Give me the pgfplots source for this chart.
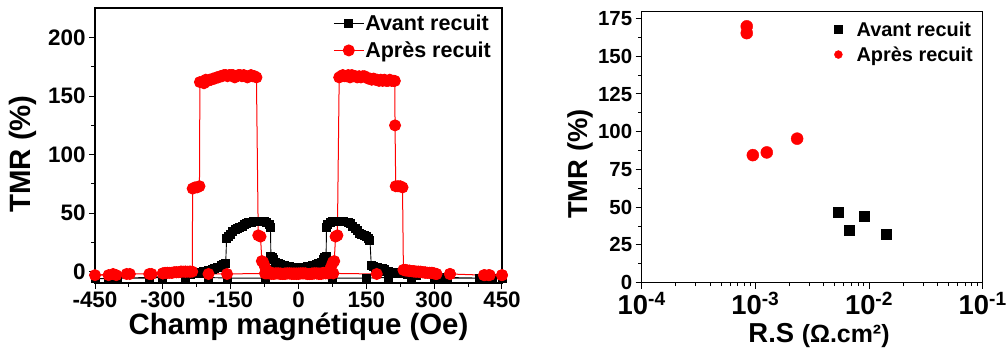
\documentclass[border=0pt]{standalone}
\usepackage{fontspec}
\setmainfont{Liberation Sans}
\usepackage{pgfplots}
\usepackage{pgfplotstable}
\pgfplotsset{compat=1.18}
\definecolor{myred}{RGB}{255,0,0}

\pgfplotstableread{
H T
450 -6
430 -6
415 -5.5
400 -5.5
330 -5.5
310 -5
300 -5
250 -5
200 -5
150 -5.5
76 -5.5
70 -2
65 0
60 1.5
50 2.5
40 3
30 3.5
20 3.5
10 4
0 4
-10 4
-20 4.5
-30 5
-40 6
-45 7
-50 8
-55 10
-58 12
-61 13
-62 38
-65 40
-70 42
-75 43
-80 43
-85 43
-90 43
-95 43
-100 43
-105 42
-110 42
-115 41
-120 40
-125 39
-130 38
-135 37
-140 36
-145 34
-150 32
-155 30
-159 28
-161 7
-165 6
-170 5
-175 4
-180 3.5
-185 3
-190 2
-200 1
-210 0
-220 -0.5
-230 -1
-240 -2
-250 -3
-300 -4
-330 -5
-400 -5.5
-420 -6
-450 -6
-420 -6
-400 -5.5
-330 -5.5
-300 -5
-250 -5
-200 -5
-157 -5.5
-74 -5.5
-70 -2
-65 0
-60 1.5
-50 2.5
-40 3
-30 3.5
-20 3.5
-10 4
0 4
10 4
20 4.5
30 5
40 6
45 7
50 8
55 10
58 12
61 13
62 38
65 40
70 42
75 43
80 43
90 43
100 43
110 42
115 41
120 39
125 37
130 35
135 33
140 32
145 31
150 30
155 28
158 27
161 5
165 4.5
170 4
175 3.5
180 3
185 2.5
190 1.5
195 0.5
200 0
210 -0.5
220 -1
240 -2
260 -3
300 -4
330 -5
400 -5.5
420 -6
450 -6
}\avant

\pgfplotstableread{
H T
450 -3
420 -3
410 -3
335 -2
305 -2
300 -1.5
295 -1
290 -1
285 -1
280 -0.5
275 -0.5
270 0
265 0
260 0
255 0.5
250 0.5
245 1
240 1
236 1.5
173 -2
77 -1.5
70 -1
65 -1.5
60 -1.5
55 -1.5
50 -2
45 -2
40 -1.5
35 -1.5
30 -2
25 -2
20 -2
15 -1.5
10 -1.5
5 -1.5
0 -1.5
-5 -1.5
-10 -2
-15 -2
-20 -1.5
-25 -1.5
-30 -1.5
-35 -2
-40 -2
-45 -1.5
-50 -1.5
-55 -1.5
-60 -1
-65 -0.5
-70 1
-74 4
-78 8
-81 9
-84 30
-89 31
-93 166
-97 167
-101 167
-105 168
-109 167
-113 166
-117 167
-121 168
-125 167
-129 168
-133 168
-137 167
-141 166
-145 168
-149 168
-153 168
-157 167
-161 168
-165 168
-169 167
-173 167
-177 166
-181 166
-185 165
-189 165
-193 164
-197 164
-201 163
-205 164
-209 161
-213 162
-218 162
-219 73
-224 72
-229 72
-234 71
-235 0
-240 0
-245 0
-250 0
-255 0
-260 0
-265 -0.5
-270 -0.5
-275 -0.5
-280 -1
-285 -1
-290 -1
-295 -1
-300 -1.5
-325 -2
-373 -2
-403 -3
-410 -2
-450 -3
-420 -3
-380 -2
-330 -2
-300 -1.5
-290 -1
-280 -1
-270 -0.5
-260 0
-250 0
-240 0
-199 -2
-158 -2
-74 -1.5
-70 -1.5
-65 -1.5
-60 -2
-55 -2
-50 -1.5
-45 -1.5
-40 -1.5
-35 -2
-30 -2
-25 -1.5
-20 -1.5
-15 -1.5
-10 -1.5
-5 -2
0 -2
5 -1.5
10 -1.5
15 -1.5
20 -2
25 -2
30 -1.5
35 -1.5
40 -1.5
45 -1.5
50 -1.5
55 -1
60 -1
65 -0.5
70 2
73 5
76 8
79 9
82 30
86 31
90 166
94 167
98 168
102 167
106 167
110 168
114 166
118 168
122 167
126 167
130 166
134 167
138 166
142 167
146 167
150 166
154 165
158 165
162 164
166 165
170 164
174 164
178 163
182 164
186 163
190 164
194 163
198 163
202 164
206 163
210 163
213 163
213.5 125
215 73
220 73
225 73
230 72
232 1.5
236 1
240 1
245 0.5
250 0.5
255 0
260 0
265 0
270 -0.5
275 -0.5
280 -1
285 -1
290 -1
295 -1
300 -1.5
305 -2
335 -2
412 -3
423 -3
450 -3
}\apres

\pgfplotstableread{
RS T
5.4e-3 46.4
6.7e-3 34.9
9.0e-3 44.2
1.43e-2 32.2
}\avantRS

\pgfplotstableread{
RS T
8.4e-4 169.8
8.4e-4 165.3
9.5e-4 84.5
1.26e-3 86.3
2.33e-3 95.4
}\apresRS

\begin{document}
\begin{tikzpicture}
\useasboundingbox (0,0) rectangle (1007bp,352bp);
\begin{axis}[
  at={(95bp,69bp)}, anchor=south west, scale only axis,
  width=407bp, height=275bp,
  xmin=-450, xmax=450, ymin=-9.7, ymax=225.3,
  xtick={-450,-300,-150,0,150,300,450},
  xticklabels={-450,-300,-150,0,150,300,450},
  minor xtick={-375,-225,-75,75,225,375},
  ytick={0,50,100,150,200},
  yticklabels={0,50,100,150,200},
  minor ytick={25,75,125,175},
  xtick pos=bottom, ytick pos=left,
  tick align=outside,
  major tick length=6bp, minor tick length=3.5bp,
  tick style={line width=1bp, black},
  axis line style={line width=1.3bp},
  ticklabel style={font=\fontsize{22.5}{22.5}\selectfont\bfseries},
  xticklabel style={inner sep=0pt, text depth=0pt, yshift=-3bp},
  xlabel={Champ magnétique (Oe)},
  ylabel={TMR (\%)},
  label style={font=\fontsize{29.5}{29.5}\selectfont\bfseries},
  x label style={at={(axis description cs:0.5,-0.189)}, anchor=base, inner sep=0pt, text height=0.75em},
  y label style={at={(axis description cs:-0.177,0.469)}, anchor=center},
  legend style={at={(axis description cs:0.585,0.980)}, anchor=north west,
    draw=none, fill=none, inner sep=0pt, row sep=8bp,
    font=\fontsize{21.6}{21.6}\selectfont\bfseries,
    nodes={inner sep=1bp}},
  legend cell align=left,
  legend image code/.code={\draw[mark repeat=2,mark phase=2] plot coordinates {(0bp,0bp)(15bp,0bp)(30bp,0bp)};},
]
\addplot[black, line width=0.9bp, mark=square*, mark size=4bp] table[x=H,y=T] {\avant};
\addlegendentry{Avant recuit}
\addplot[myred, line width=1bp, mark=*, mark size=5.5bp, mark options={fill=myred,draw=myred}] table[x=H,y=T] {\apres};
\addlegendentry{Après recuit}
\end{axis}

\begin{axis}[
  at={(641.7bp,69.3bp)}, anchor=south west, scale only axis,
  width=341bp, height=271bp,
  xmode=log, xmin=1e-4, xmax=1e-1, ymin=0, ymax=179.5,
  xtick={1e-4,1e-3,1e-2,1e-1},
  xticklabels={10\textsuperscript{-4},10\textsuperscript{-3},10\textsuperscript{-2},10\textsuperscript{-1}},
  ytick={0,25,50,75,100,125,150,175},
  yticklabels={0,25,50,75,100,125,150,175},
  minor ytick={12.5,37.5,62.5,87.5,112.5,137.5,162.5},
  xtick pos=bottom, ytick pos=left,
  tick align=outside,
  major tick length=6bp, minor tick length=3.5bp,
  tick style={line width=1bp, black},
  axis line style={line width=1.3bp},
  yticklabel style={font=\fontsize{20.5}{20.5}\selectfont\bfseries},
  xticklabel style={font=\fontsize{27.5}{27.5}\selectfont\bfseries, inner sep=0pt, text depth=0pt, yshift=-3bp},
  xlabel={R.S {\fontsize{25}{25}\selectfont(Ω.cm²)}},
  ylabel={TMR (\%)},
  label style={font=\fontsize{27.5}{27.5}\selectfont\bfseries},
  x label style={at={(axis description cs:0.52,-0.219)}, anchor=base, inner sep=0pt, text height=0.75em},
  y label style={at={(axis description cs:-0.181,0.438)}, anchor=center},
  legend style={at={(axis description cs:0.561,0.968)}, anchor=north west,
    draw=none, fill=none, inner sep=0pt, row sep=7bp,
    font=\fontsize{20}{20}\selectfont\bfseries,
    nodes={inner sep=1bp}},
  legend cell align=left,
  legend image code/.code={\draw[mark size=4bp] plot coordinates {(5bp,0bp)}; \path (0bp,0bp) (22bp,0bp);},
]
\addplot[only marks, black, mark=square*, mark size=5bp] table[x=RS,y=T] {\avantRS};
\addlegendentry{Avant recuit}
\addplot[only marks, myred, mark=*, mark size=6bp, mark options={fill=myred,draw=myred}] table[x=RS,y=T] {\apresRS};
\addlegendentry{Après recuit}
\end{axis}
\end{tikzpicture}
\end{document}
